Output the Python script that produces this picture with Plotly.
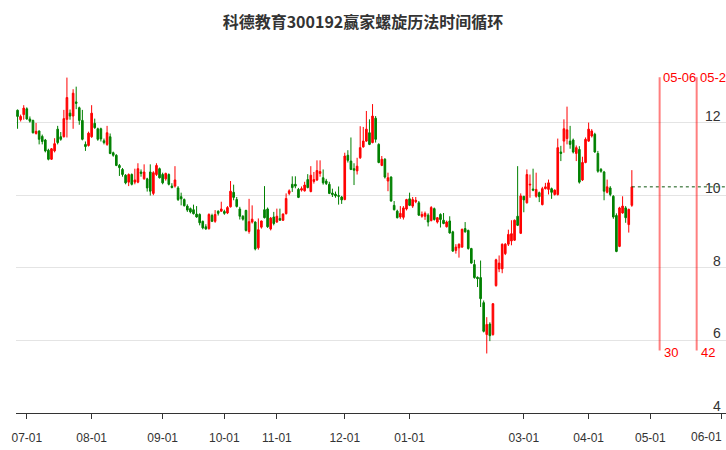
import pandas as pd
import plotly.graph_objects as go

title = "科德教育300192赢家螺旋历法时间循环"

holidays = ["2023-09-29", "2023-10-02", "2023-10-03", "2023-10-04", "2023-10-05", "2023-10-06",
            "2024-01-01", "2024-02-09", "2024-02-12", "2024-02-13", "2024-02-14", "2024-02-15",
            "2024-02-16", "2024-04-04", "2024-04-05"]
trade_days = [d for d in pd.bdate_range("2023-06-28", "2024-04-23") if d.strftime("%Y-%m-%d") not in holidays]
future_days = list(pd.bdate_range("2024-04-24", "2024-06-04"))
all_days = trade_days + future_days

open_ = [12.34, 12.08, 12.22, 12.38, 12.10, 12.06, 11.70, 11.77, 11.62, 11.52,
         11.24, 10.99, 11.22, 11.82, 11.61, 11.61, 12.09, 12.26, 12.18, 12.57,
         12.41, 12.06, 11.40, 11.37, 11.61, 11.98, 11.83, 11.83, 11.50, 11.40,
         11.61, 11.17, 11.10, 10.82, 10.71, 10.55, 10.36, 10.57, 10.36, 10.36,
         10.64, 10.45, 10.45, 10.64, 10.05, 10.57, 10.73, 10.57, 10.45, 10.57,
         10.25, 10.25, 10.20, 9.96, 9.88, 9.70, 9.63, 9.60, 9.48, 9.47,
         9.28, 9.13, 9.08, 9.44, 9.28, 9.56, 9.56, 9.55, 9.51, 9.68,
         10.08, 9.88, 9.62, 9.42, 9.58, 9.00, 9.26, 9.26, 8.55, 9.12,
         9.60, 9.62, 9.07, 9.40, 9.26, 9.36, 9.31, 9.49, 10.05, 10.30,
         10.30, 10.16, 10.14, 10.12, 10.43, 10.10, 10.38, 10.42, 10.60, 10.48,
         10.39, 10.30, 10.06, 10.03, 9.99, 9.95, 9.88, 11.10, 10.94, 10.73,
         10.67, 11.03, 11.33, 11.49, 11.72, 11.45, 12.12, 11.40, 10.82, 10.99,
         10.39, 10.50, 9.72, 9.56, 9.40, 9.39, 9.62, 9.90, 9.70, 9.82,
         9.79, 9.42, 9.42, 9.45, 9.30, 9.63, 9.26, 9.47, 9.31, 9.13,
         9.29, 8.99, 8.48, 8.55, 8.57, 9.08, 9.03, 8.53, 8.09, 7.74,
         7.73, 7.04, 6.16, 6.45, 6.16, 7.51, 7.97, 7.97, 8.39, 8.65,
         8.74, 8.76, 9.42, 8.95, 9.97, 9.79, 10.28, 10.17, 9.97, 10.07,
         9.74, 10.18, 10.16, 10.18, 10.02, 10.02, 11.19, 11.49, 11.56, 11.49,
         11.52, 11.15, 11.26, 10.42, 10.90, 11.49, 11.63, 11.68, 11.15, 10.71,
         10.64, 10.08, 10.20, 9.97, 9.44, 8.59, 9.51, 9.65, 9.19, 9.72]
high = [12.36, 12.22, 12.48, 12.42, 12.17, 12.08, 11.99, 11.78, 11.67, 11.55,
        11.28, 11.30, 11.57, 11.91, 11.74, 12.35, 13.24, 12.36, 12.92, 12.99,
        12.44, 12.35, 11.48, 11.75, 12.48, 12.11, 11.86, 11.86, 11.56, 11.91,
        11.70, 11.20, 11.13, 10.86, 10.75, 10.58, 10.60, 10.60, 10.73, 10.88,
        10.71, 10.85, 10.48, 10.85, 10.66, 10.88, 10.76, 10.62, 10.62, 10.60,
        10.33, 10.80, 10.25, 10.07, 9.91, 9.75, 9.66, 9.74, 9.70, 9.50,
        9.30, 9.20, 9.50, 9.49, 9.59, 9.58, 9.82, 9.60, 9.70, 10.39,
        10.29, 9.95, 9.68, 9.45, 9.60, 9.90, 9.72, 9.28, 9.36, 9.30,
        10.25, 9.66, 9.40, 9.54, 9.63, 9.63, 9.50, 10.05, 10.16, 10.52,
        10.52, 10.20, 10.24, 10.37, 10.58, 10.80, 10.64, 10.96, 10.96, 10.71,
        10.45, 10.37, 10.18, 10.10, 10.24, 9.98, 11.17, 11.24, 11.59, 10.88,
        11.03, 11.90, 11.88, 12.32, 12.09, 12.51, 12.18, 11.43, 11.08, 11.02,
        10.62, 10.52, 9.84, 9.60, 9.70, 9.70, 9.90, 10.07, 9.95, 9.95,
        9.84, 9.55, 9.55, 9.50, 9.70, 9.66, 9.40, 9.50, 9.51, 9.30,
        9.42, 9.02, 8.65, 8.67, 9.08, 9.26, 9.05, 8.55, 8.22, 7.76,
        8.20, 7.10, 6.64, 6.50, 7.03, 8.25, 8.34, 8.67, 8.68, 9.05,
        9.31, 9.33, 10.80, 10.05, 9.98, 10.71, 10.57, 10.73, 10.62, 10.10,
        10.23, 10.34, 10.43, 10.21, 10.16, 11.56, 11.36, 12.09, 12.44, 11.91,
        11.56, 11.37, 11.35, 11.06, 11.59, 12.00, 11.82, 11.72, 11.22, 10.75,
        10.67, 10.43, 10.25, 10.00, 9.50, 9.68, 9.97, 9.70, 9.63, 10.69]
low = [11.83, 12.03, 12.08, 12.08, 12.00, 11.70, 11.67, 11.40, 11.40, 11.18,
       10.96, 10.97, 11.18, 11.40, 11.50, 11.59, 11.59, 12.08, 11.83, 12.37,
       11.94, 11.51, 11.22, 11.34, 11.58, 11.83, 11.50, 11.48, 11.40, 11.36,
       11.13, 11.06, 10.80, 10.53, 10.51, 10.30, 10.25, 10.27, 10.30, 10.33,
       10.51, 10.43, 10.10, 9.99, 10.00, 10.53, 10.46, 10.30, 10.40, 10.27,
       10.19, 10.21, 9.84, 9.72, 9.69, 9.54, 9.50, 9.47, 9.38, 9.17,
       9.06, 9.05, 9.05, 9.26, 9.24, 9.44, 9.54, 9.46, 9.48, 9.66,
       9.86, 9.66, 9.33, 9.30, 9.00, 8.94, 9.22, 8.48, 8.50, 9.08,
       9.36, 9.10, 9.03, 9.17, 9.24, 9.30, 9.29, 9.47, 10.00, 10.09,
       10.19, 9.92, 10.10, 10.10, 10.19, 10.08, 10.32, 10.39, 10.51, 10.29,
       10.28, 10.03, 9.95, 9.93, 9.74, 9.76, 9.86, 10.90, 10.69, 10.28,
       10.57, 11.00, 11.31, 11.47, 11.38, 11.43, 11.45, 10.88, 10.80, 10.46,
       10.11, 9.82, 9.58, 9.36, 9.35, 9.33, 9.58, 9.70, 9.65, 9.78,
       9.43, 9.38, 9.32, 9.14, 9.28, 9.30, 9.22, 9.11, 9.20, 9.11,
       8.94, 8.44, 8.39, 8.28, 8.55, 8.97, 8.50, 8.11, 7.70, 7.47,
       6.92, 6.22, 5.64, 5.98, 6.13, 7.48, 7.88, 7.85, 8.35, 8.60,
       8.62, 8.74, 9.15, 8.93, 9.53, 9.77, 9.93, 10.11, 9.93, 9.81,
       9.72, 10.16, 10.02, 9.90, 9.99, 9.99, 10.94, 11.17, 11.40, 11.28,
       11.15, 10.94, 10.32, 10.39, 10.88, 11.47, 11.59, 11.17, 10.62, 10.62,
       9.86, 10.05, 9.97, 9.35, 8.43, 8.57, 9.49, 9.24, 8.97, 9.68]
close = [12.17, 12.17, 12.40, 12.10, 12.04, 11.72, 11.76, 11.54, 11.48, 11.22,
         10.99, 11.28, 11.42, 11.45, 11.54, 12.11, 12.69, 12.18, 12.81, 12.53,
         12.06, 11.54, 11.34, 11.71, 12.26, 11.86, 11.54, 11.55, 11.45, 11.72,
         11.15, 11.10, 10.82, 10.76, 10.57, 10.34, 10.57, 10.30, 10.42, 10.73,
         10.60, 10.64, 10.20, 10.11, 10.62, 10.82, 10.48, 10.34, 10.60, 10.30,
         10.21, 10.42, 9.88, 9.90, 9.71, 9.59, 9.54, 9.49, 9.40, 9.24,
         9.10, 9.07, 9.47, 9.28, 9.47, 9.50, 9.62, 9.50, 9.66, 10.11,
         9.94, 9.69, 9.42, 9.34, 9.03, 9.27, 9.34, 8.52, 9.05, 9.29,
         9.38, 9.13, 9.37, 9.22, 9.42, 9.31, 9.48, 9.91, 10.12, 10.21,
         10.25, 9.94, 10.18, 10.28, 10.21, 10.55, 10.43, 10.68, 10.65, 10.34,
         10.32, 10.05, 10.02, 9.98, 9.97, 9.87, 11.08, 10.96, 10.71, 10.69,
         10.80, 11.31, 11.49, 11.82, 11.40, 12.18, 11.54, 10.90, 10.99, 10.50,
         10.48, 9.84, 9.60, 9.38, 9.50, 9.65, 9.88, 9.72, 9.88, 9.86,
         9.45, 9.47, 9.50, 9.26, 9.66, 9.33, 9.38, 9.33, 9.22, 9.26,
         8.96, 8.46, 8.57, 8.65, 9.06, 8.99, 8.53, 8.13, 7.73, 7.70,
         7.15, 6.25, 6.44, 6.13, 7.01, 8.22, 8.13, 8.65, 8.65, 8.92,
         8.94, 9.31, 9.17, 9.98, 9.87, 10.57, 10.30, 10.14, 10.16, 9.96,
         10.18, 10.23, 10.34, 10.08, 10.14, 11.31, 11.15, 11.83, 11.80, 11.40,
         11.19, 11.31, 10.36, 10.90, 11.54, 11.82, 11.77, 11.19, 10.66, 10.66,
         10.11, 10.23, 10.02, 9.40, 8.45, 9.65, 9.70, 9.38, 9.61, 10.23]

tick_labels = ["07-01", "08-01", "09-01", "10-01", "11-01", "12-01", "01-01",
               "03-01", "04-01", "05-01", "06-01"]
cycle_dates = ["2024-05-06", "2024-05-22"]
cycle_counts = ["30", "42"]
y_ticks = [4, 6, 8, 10, 12]
grid_vals = [4, 6, 8, 10, 12, 14]

n_all = len(all_days)
xs = list(range(len(trade_days)))
day_str = [d.strftime("%Y-%m-%d") for d in all_days]
md = [d.strftime("%m") for d in all_days]

# first trading day of each labelled month, searched in order along the axis
tickvals = []
pos = 0
for lab in tick_labels:
    m = lab[:2]
    while md[pos] != m:
        pos += 1
    tickvals.append(pos)
# last label sits at the right edge: drawn as an annotation so it stays inside the canvas
ticktext = tick_labels[:-1] + [""]

fig = go.Figure()
fig.add_trace(go.Candlestick(
    x=xs, open=open_, high=high, low=low, close=close,
    increasing=dict(line=dict(color="#ff0000", width=1), fillcolor="#ff0000"),
    decreasing=dict(line=dict(color="#008000", width=1), fillcolor="#008000"),
    whiskerwidth=0, hoverinfo="skip", showlegend=False,
))
last_i = len(close) - 1
fig.add_trace(go.Scatter(
    x=[last_i, n_all - 0.5], y=[close[-1], close[-1]], mode="lines",
    line=dict(color="#0f560f", width=1, dash="dot"), hoverinfo="skip", showlegend=False,
))

shapes = []
annotations = []
for dstr, cnt in zip(cycle_dates, cycle_counts):
    xi = day_str.index(dstr)
    shapes.append(dict(type="line", xref="x", yref="paper", x0=xi, x1=xi, y0=0.172, y1=0.925,
                       line=dict(color="rgba(255,0,0,0.5)", width=2)))
    annotations.append(dict(x=xi, y=0.925, xref="x", yref="paper", text=dstr[5:], showarrow=False,
                            xanchor="left", yanchor="middle", xshift=1,
                            font=dict(color="#ff0000", size=13, family="Liberation Sans, Arial")))
    annotations.append(dict(x=xi, y=0.167, xref="x", yref="paper", text=cnt, showarrow=False,
                            xanchor="left", yanchor="middle", xshift=2,
                            font=dict(color="#ff0000", size=13, family="Liberation Sans, Arial")))
for v in y_ticks:
    annotations.append(dict(x=1, y=v, xref="paper", yref="y", text=str(v), showarrow=False,
                            xanchor="right", yanchor="bottom", xshift=-3, yshift=-3,
                            font=dict(color="#333333", size=14, family="Liberation Sans, Arial")))
annotations.append(dict(x=tickvals[-1], y=0, xref="x", yref="paper", text=tick_labels[-1],
                        showarrow=False, xanchor="right", yanchor="top", xshift=3, yshift=-15,
                        font=dict(family="Liberation Sans Narrow, Liberation Sans, Arial", size=12,
                                  color="#333333")))

fig.update_layout(
    width=726, height=450,
    margin=dict(l=16, r=0, t=50, b=37, pad=0, autoexpand=False),
    paper_bgcolor="white", plot_bgcolor="white",
    title=dict(text="<b>" + title + "</b>", xref="container", x=0.5, xanchor="center",
               yref="container", y=0.951, yanchor="middle",
               font=dict(family="Noto Sans CJK SC", size=16, color="#333333")),
    boxgap=0.25,
    shapes=shapes, annotations=annotations,
    xaxis=dict(type="linear", range=[-0.5, n_all - 0.5], tickvals=tickvals, ticktext=ticktext,
               showgrid=False, zeroline=False, showline=True, linecolor="#333333", linewidth=1,
               ticks="outside", ticklen=5, tickcolor="#333333", automargin=False,
               ticklabelstandoff=9,
               tickfont=dict(family="Liberation Sans Narrow, Liberation Sans, Arial", size=12, color="#333333"),
               rangeslider=dict(visible=False), fixedrange=True),
    yaxis=dict(range=[4, 14], side="right", tickvals=grid_vals, showticklabels=False,
               showgrid=True, gridcolor="#e4e4e4", gridwidth=1, automargin=False,
               zeroline=False, showline=False, ticks="", fixedrange=True),
    hovermode=False,
)

fig.write_html("out.html", config={"displayModeBar": False},
               post_script="document.body.style.margin='0';document.body.style.overflow='hidden';")
